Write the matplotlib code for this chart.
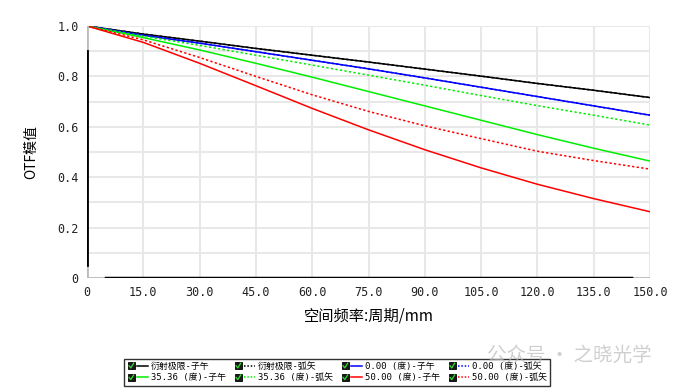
import matplotlib
matplotlib.use("Agg")
import matplotlib.pyplot as plt
from matplotlib.legend_handler import HandlerBase
from matplotlib.lines import Line2D
from matplotlib.patches import Rectangle
from matplotlib.font_manager import FontProperties
import numpy as np

# spatial frequency, cycles/mm
freq = [0, 15, 30, 45, 60, 75, 90, 105, 120, 135, 150]

diff_t = [1, 0.968, 0.940, 0.911, 0.884, 0.857, 0.829, 0.801, 0.772, 0.745, 0.716]
diff_s = [1, 0.968, 0.940, 0.911, 0.884, 0.857, 0.829, 0.801, 0.772, 0.745, 0.716]
f0_t = [1, 0.963, 0.932, 0.898, 0.864, 0.830, 0.794, 0.757, 0.720, 0.683, 0.646]
f0_s = [1, 0.963, 0.932, 0.898, 0.864, 0.830, 0.794, 0.757, 0.720, 0.683, 0.646]
f35_t = [1, 0.954, 0.905, 0.852, 0.797, 0.740, 0.683, 0.626, 0.569, 0.515, 0.464]
f35_s = [1, 0.960, 0.923, 0.884, 0.845, 0.805, 0.765, 0.724, 0.684, 0.646, 0.607]
f50_t = [1, 0.935, 0.852, 0.763, 0.673, 0.588, 0.509, 0.437, 0.372, 0.315, 0.263]
f50_s = [1, 0.945, 0.875, 0.800, 0.727, 0.661, 0.604, 0.553, 0.503, 0.466, 0.432]

labels = ["衍射极限-子午", "衍射极限-弧矢",
          "0.00 (度)-子午", "0.00 (度)-弧矢",
          "35.36 (度)-子午", "35.36 (度)-弧矢",
          "50.00 (度)-子午", "50.00 (度)-弧矢"]
series = [diff_t, diff_s, f0_t, f0_s, f35_t, f35_s, f50_t, f50_s]
colors = ["black", "black", "blue", "blue", "#00ee00", "#00ee00", "red", "red"]
styles = ["-", (0, (1.5, 1.5))] * 4

xticks = [0, 15, 30, 45, 60, 75, 90, 105, 120, 135, 150]
xticklabels = ["0", "15.0", "30.0", "45.0", "60.0", "75.0", "90.0",
               "105.0", "120.0", "135.0", "150.0"]
yticks = [0, 0.2, 0.4, 0.6, 0.8, 1.0]
yticklabels = ["0", "0.2", "0.4", "0.6", "0.8", "1.0"]

mono = "DejaVu Sans Mono"
cjk = "Noto Sans CJK SC"


class CheckboxHandler(HandlerBase):
    # checkbox square, then a short line sample (like the lens software legend)
    def create_artists(self, legend, orig_handle, xdescent, ydescent,
                       width, height, fontsize, trans):
        box = 5.2
        x0 = -xdescent
        ym = height / 2 - ydescent
        y0 = ym - box / 2
        sq = Rectangle((x0, y0), box, box, facecolor="#1a1a1a",
                       edgecolor="black", lw=0.6, transform=trans)
        chk = Line2D([x0 + box * 0.2, x0 + box * 0.45, x0 + box * 0.85],
                     [y0 + box * 0.5, y0 + box * 0.2, y0 + box * 0.85],
                     color="#33dd33", lw=0.9, transform=trans)
        ln = Line2D([x0 + box + 1.5, x0 + width], [ym, ym],
                    color=orig_handle.get_color(),
                    linestyle=(0, (1, 1.2)) if orig_handle.get_linestyle() != "-" else "-",
                    lw=1.1, transform=trans)
        return [sq, chk, ln]


fig = plt.figure(figsize=(6.74, 3.9), dpi=100)
ax = fig.add_axes([87 / 674, 1 - 278 / 390, 563 / 674, 252 / 390])

lines = []
for ys, c, ls, lab in zip(series, colors, styles, labels):
    ln, = ax.plot(freq, ys, color=c, linestyle=ls, lw=1.1, label=lab)
    lines.append(ln)

ax.set_xlim(0, 150)
ax.set_ylim(0, 1.0)
ax.set_xticks(xticks)
ax.set_xticklabels(xticklabels, family=mono, fontsize=8.5, color="#222222")
ax.set_yticks(yticks)
ax.set_yticklabels(yticklabels, family=mono, fontsize=8.5, color="#222222")
ax.set_yticks(np.arange(0.1, 1.0, 0.2), minor=True)
ax.tick_params(which="both", length=0, pad=6)
ax.grid(True, which="both", color="#e8e8e8", lw=1.5)
ax.set_axisbelow(True)
for s in ax.spines.values():
    s.set_visible(False)
# gray corner pieces + black axis lines
ax.axvline(0, 0, 1, color="#bbbbbb", lw=2)
ax.axhline(0, 0, 1, color="#bbbbbb", lw=2)
ax.axvline(0, 0.05, 0.9, color="black", lw=2)
ax.axhline(0, 5 / 150, 145 / 150, color="black", lw=2.5)

ax.set_ylabel("OTF模值", family=[cjk, "DejaVu Sans"], fontsize=10, labelpad=14)
ax.set_xlabel("空间频率:周期/mm", family=[cjk, "DejaVu Sans"], fontsize=11, labelpad=6)

order = [0, 4, 1, 5, 2, 6, 3, 7]
leg = fig.legend([lines[i] for i in order], [labels[i] for i in order],
                 ncol=4, loc="lower left", bbox_to_anchor=(120 / 674, 0),
                 prop=FontProperties(family=[mono, cjk], size=6.4),
                 handler_map={Line2D: CheckboxHandler()},
                 handlelength=2.3, handleheight=1.0, handletextpad=0.3,
                 columnspacing=1.0, labelspacing=0.3, borderpad=0.35,
                 frameon=True, fancybox=False)
leg.get_frame().set_edgecolor("black")
leg.get_frame().set_linewidth(1.0)

fig.text(652 / 674, 1 - 355 / 390, "公众号 · 之晓光学", ha="right", va="center",
         family=[cjk, "DejaVu Sans"], fontsize=14, color="#bbbbbb",
         alpha=0.7, zorder=10)

fig.savefig("out.png", dpi=100)
